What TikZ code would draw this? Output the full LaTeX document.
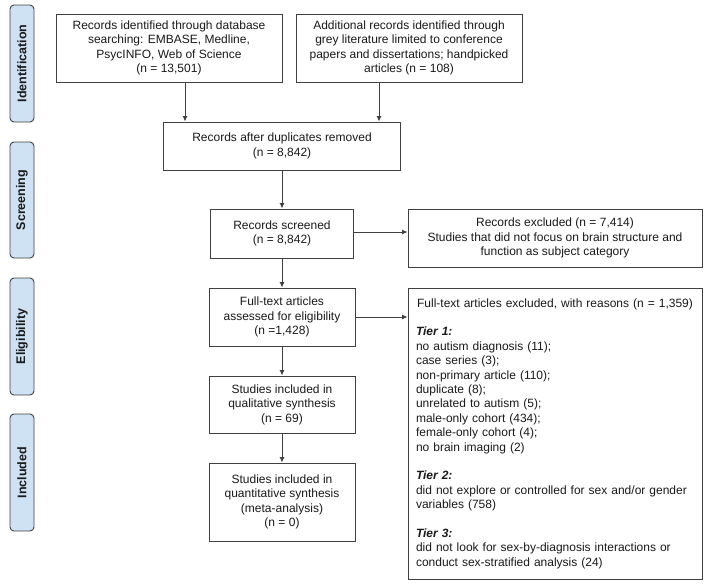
\documentclass[tikz,border=0pt]{standalone}
\usepackage{fontspec}
\setmainfont{Liberation Sans}
\usetikzlibrary{arrows.meta}
\definecolor{lineg}{HTML}{404040}
\definecolor{txt}{HTML}{1A1A1A}
\definecolor{sidefill}{HTML}{CFE2F3}
\tikzset{
  box/.style={draw=lineg, line width=0.9pt, fill=white, align=center, text=txt,
    font=\fontsize{12}{14.4}\selectfont, inner sep=2pt},
  side/.style={draw=lineg, line width=0.9pt, fill=sidefill, rounded corners=4pt,
    rotate=90, minimum height=24pt, inner sep=0pt, text=txt,
    font=\fontsize{12.5}{14}\selectfont\bfseries},
  arr/.style={draw=lineg, line width=0.9pt, -{Latex[length=5.5pt,width=5pt]}}
}
\begin{document}
\begin{tikzpicture}[x=1pt,y=-1pt]
\useasboundingbox (0,0) rectangle (711,584);
% side labels
\node[side, minimum width=117pt] (sid) at (22,63.5) {Identification};
\node[side, minimum width=116pt] (sscr) at (22,200) {Screening};
\node[side, minimum width=117pt] (selig) at (22,336.5) {Eligibility};
\node[side, minimum width=117pt] (sinc) at (22,472.5) {Included};
% boxes
\node[box, minimum width=226pt, minimum height=68pt] (b1) at (169,48)
  {Records identified through database\\ searching: EMBASE, Medline,\\ PsycINFO, Web of Science\\ (n = 13,501)};
\node[box, minimum width=226pt, minimum height=68pt] (b2) at (409,48)
  {Additional records identified through\\ grey literature limited to conference\\ papers and dissertations; handpicked\\ articles (n = 108)};
\node[box, minimum width=237pt, minimum height=48pt] (b3) at (282,146)
  {Records after duplicates removed\\ (n = 8,842)};
\node[box, minimum width=143pt, minimum height=49pt] (scr) at (282,233.5)
  {Records screened\\ (n = 8,842)};
\node[box, minimum width=146pt, minimum height=58pt] (elig) at (282,317)
  {Full-text articles\\ assessed for eligibility\\ (n =1,428)};
\node[box, minimum width=146pt, minimum height=57pt] (qual) at (282,404.5)
  {Studies included in\\ qualitative synthesis\\ (n = 69)};
\node[box, minimum width=146pt, minimum height=78pt] (quant) at (282,502)
  {Studies included in\\ quantitative synthesis\\ (meta-analysis)\\ (n = 0)};
\node[box, minimum width=294pt, minimum height=58pt] (ex1) at (555,238)
  {Records excluded (n = 7,414)\\ Studies that did not focus on brain structure and\\ function as subject category};
\node[box, minimum width=294pt, minimum height=291pt, text width=278pt, align=left, inner sep=8pt] (ex2) at (555,433.5)
  {\makebox[278pt][c]{Full-text articles excluded, with reasons (n = 1,359)}\\[14.4pt]
   \textbf{\textit{Tier 1:}}\\
   no autism diagnosis (11);\\
   case series (3);\\
   non-primary article (110);\\
   duplicate (8);\\
   unrelated to autism (5);\\
   male-only cohort (434);\\
   female-only cohort (4);\\
   no brain imaging (2)\\[14.4pt]
   \textbf{\textit{Tier 2:}}\\
   did not explore or controlled for sex and/or gender\\
   variables (758)\\[14.4pt]
   \textbf{\textit{Tier 3:}}\\
   did not look for sex-by-diagnosis interactions or\\
   conduct sex-stratified analysis (24)};
% connectors
\coordinate (a1) at ([xshift=16pt]b1.south);
\coordinate (a2) at ([xshift=-30pt]b2.south);
\draw[arr] (a1) -- (a1 |- b3.north);
\draw[arr] (a2) -- (a2 |- b3.north);
\draw[arr] (b3.south) -- (scr.north);
\draw[arr] (scr.south) -- (elig.north);
\draw[arr] (elig.south) -- (qual.north);
\draw[arr] (qual.south) -- (quant.north);
\coordinate (h1) at ([yshift=1.5pt]scr.east);
\draw[arr] (h1) -- (h1 -| ex1.west);
\draw[arr] (elig.east) -- (elig.east -| ex2.west);
\end{tikzpicture}
\end{document}
